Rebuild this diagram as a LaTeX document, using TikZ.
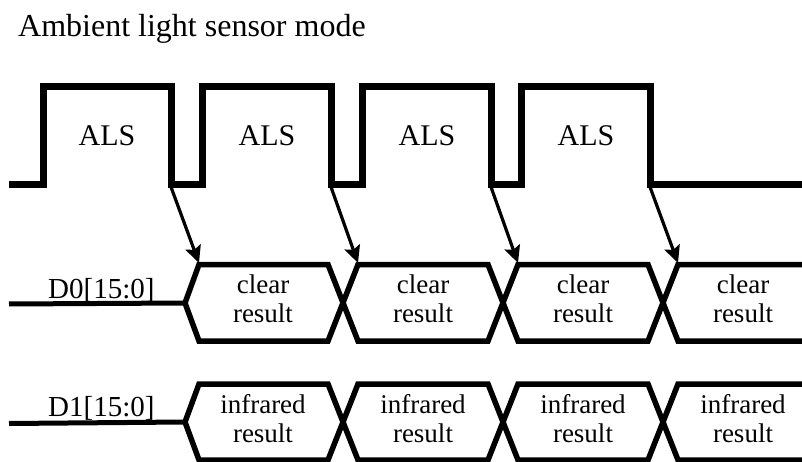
\documentclass[tikz,border=0pt]{standalone}
\usepackage{fontspec}
\setmainfont{Liberation Serif}
\usetikzlibrary{arrows.meta}
\begin{document}
\begin{tikzpicture}[x=1pt,y=-1pt,
  wave/.style={line width=7pt, line join=miter},
  bus/.style={line width=5.5pt, line join=miter},
  lead/.style={line width=5pt},
  trig/.style={line width=3.2pt, -{Stealth[length=17pt,width=16pt,inset=3pt]}},
  lbl/.style={font=\fontsize{30}{32}\selectfont, inner sep=0pt, anchor=base},
  sig/.style={font=\fontsize{29}{31}\selectfont, inner sep=0pt, anchor=base west},
  val/.style={font=\fontsize{27}{29}\selectfont, align=center, inner sep=0pt}]
\useasboundingbox (0,0) rectangle (802,462);

% title
\node[anchor=base west, font=\fontsize{32}{34}\selectfont, inner sep=0pt] (title) at (18,37) {Ambient light sensor mode};

% ALS waveform
\coordinate (w0) at (9,185);
\coordinate (f1) at (171,187);
\coordinate (f2) at (331,187);
\coordinate (f3) at (491,187);
\coordinate (f4) at (650,187);
\coordinate (wend) at (802,185);
\draw[wave] (w0) -- (43,185) -- (43,87) -- (171,87) -- (171,185) -- (202,185) -- (202,87)
  -- (331,87) -- (331,185) -- (362,185) -- (362,87) -- (491,87) -- (491,185) -- (521,185)
  -- (521,87) -- (650,87) -- (650,185) -- (wend);
\node[lbl] (als1) at (107,146) {ALS};
\node[lbl] (als2) at (267,146) {ALS};
\node[lbl] (als3) at (427,146) {ALS};
\node[lbl] (als4) at (586,146) {ALS};

% D0 bus
\def\tA{264.5}\def\bA{341}\def\mA{303}
\coordinate (d0s) at (9,304);
\coordinate (d0t) at (185,\mA);
\coordinate (a1) at (199,263);
\coordinate (a2) at (358,263);
\coordinate (a3) at (518,263);
\coordinate (a4) at (678,263);
\draw[lead] (d0s) -- (d0t);
\draw[bus] (802,\bA) -- (678,\bA) -- (648,\tA) -- (518,\tA) -- (488,\bA) -- (358,\bA)
  -- (328,\tA) -- (199,\tA) -- (d0t) -- (199,\bA) -- (328,\bA) -- (358,\tA)
  -- (488,\tA) -- (518,\bA) -- (648,\bA) -- (678,\tA) -- (802,\tA);
\node[sig] (d0) at (48,298) {D0[15:0]};
\node[val] (c1) at (263,298.3) {clear\\result};
\node[val] (c2) at (423,298.3) {clear\\result};
\node[val] (c3) at (583,298.3) {clear\\result};
\node[val] (c4) at (743,298.3) {clear\\result};

% D1 bus
\def\tB{384}\def\bB{460}\def\mB{422}
\coordinate (d1s) at (9,423.5);
\coordinate (d1t) at (185,\mB);
\draw[lead] (d1s) -- (d1t);
\draw[bus] (802,\bB) -- (678,\bB) -- (648,\tB) -- (518,\tB) -- (488,\bB) -- (358,\bB)
  -- (328,\tB) -- (199,\tB) -- (d1t) -- (199,\bB) -- (328,\bB) -- (358,\tB)
  -- (488,\tB) -- (518,\bB) -- (648,\bB) -- (678,\tB) -- (802,\tB);
\node[sig] (d1) at (48,416) {D1[15:0]};
\node[val] (i1) at (263,418.3) {infrared\\result};
\node[val] (i2) at (423,418.3) {infrared\\result};
\node[val] (i3) at (583,418.3) {infrared\\result};
\node[val] (i4) at (743,418.3) {infrared\\result};

% trigger arrows
\draw[trig] (f1) -- (a1);
\draw[trig] (f2) -- (a2);
\draw[trig] (f3) -- (a3);
\draw[trig] (f4) -- (a4);
\end{tikzpicture}
\end{document}
